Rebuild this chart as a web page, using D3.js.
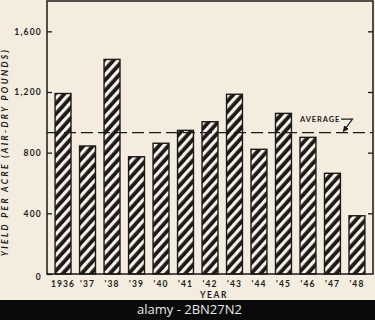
<!DOCTYPE html>
<html>
<head>
<meta charset="utf-8">
<script src="https://cdn.jsdelivr.net/npm/d3@7"></script>
<style>
  body { margin: 0; background: #f3ecdf; }
  svg { display: block; }
</style>
</head>
<body>
<script>
// yield per acre by year
const years = ["1936", "'37", "'38", "'39", "'40", "'41", "'42", "'43", "'44", "'45", "'46", "'47", "'48"];
const yields = [1190, 844, 1415, 773, 862, 947, 1004, 1185, 822, 1059, 901, 664, 384];
const yTicks = [0, 400, 800, 1200, 1600];
const average = 932;

const baseWidth = 375,
  baseHeight = 320;
const margin = { top: 1, right: 2, bottom: 46, left: 47 };
const width = baseWidth - margin.left - margin.right;
const height = baseHeight - margin.top - margin.bottom;
const ink = "#1c1916";
const font = "Lato, 'Open Sans', sans-serif";

const data = years.map((y, i) => ({ Name: y, Value: yields[i] }));

const x = d3
  .scaleBand()
  .domain(years)
  .range([0, width])
  .paddingInner(0.35)
  .paddingOuter(0.33);

const y = d3.scaleLinear().domain([0, 1800]).range([height, 0]);

const svg = d3
  .select("body")
  .append("svg")
  .attr("width", baseWidth)
  .attr("height", baseHeight);

// hatch fill for the bars
const defs = svg.append("defs");
const hatch = defs
  .append("pattern")
  .attr("id", "hatch")
  .attr("patternUnits", "userSpaceOnUse")
  .attr("width", 7)
  .attr("height", 7)
  .attr("patternTransform", "rotate(42)");
hatch.append("rect").attr("width", 7).attr("height", 7).attr("fill", ink);
hatch.append("rect").attr("width", 3.2).attr("height", 7).attr("fill", "#f8f3ea");

const chart = svg
  .append("g")
  .attr("transform", "translate(" + margin.left + "," + margin.top + ")");

// bars
chart
  .selectAll(".bar")
  .data(data)
  .enter()
  .append("rect")
  .attr("class", "bar")
  .attr("x", (d) => x(d.Name))
  .attr("y", (d) => y(d.Value))
  .attr("width", x.bandwidth())
  .attr("height", (d) => y(0) - y(d.Value))
  .attr("fill", "url(#hatch)")
  .attr("stroke", ink)
  .attr("stroke-width", 1.4);

// frame
chart
  .append("rect")
  .attr("width", width)
  .attr("height", height)
  .attr("fill", "none")
  .attr("stroke", ink)
  .attr("stroke-width", 1.5);

// left axis, ticks pointing in
const yAxis = chart
  .append("g")
  .call(d3.axisLeft(y).tickValues(yTicks).tickFormat(d3.format(",")).tickSize(-5).tickPadding(5));
yAxis.select(".domain").remove();

// right axis ticks only
const yAxisR = chart
  .append("g")
  .attr("transform", "translate(" + width + ",0)")
  .call(d3.axisRight(y).tickValues(yTicks.slice(1)).tickSize(-5).tickFormat(""));
yAxisR.select(".domain").remove();

[yAxis, yAxisR].forEach((a) => {
  a.selectAll("line").attr("stroke", ink).attr("stroke-width", 1.3);
});
yAxis
  .selectAll("text")
  .attr("fill", ink)
  .style("font-family", font)
  .style("font-size", "8.5px")
  .style("font-weight", "700")
  .style("letter-spacing", "1.2px");
yAxis.selectAll(".tick").filter((d) => d === 0).select("text").attr("dy", "0.7em");

// bottom labels
const xAxis = chart
  .append("g")
  .attr("transform", "translate(0," + height + ")")
  .call(d3.axisBottom(x).tickSize(0).tickPadding(7));
xAxis.select(".domain").remove();
xAxis
  .selectAll("text")
  .attr("fill", ink)
  .style("font-family", font)
  .style("font-size", "8.5px")
  .style("font-weight", "700")
  .style("letter-spacing", "1.1px");

chart
  .append("text")
  .attr("x", 167)
  .attr("y", height + 24)
  .attr("text-anchor", "middle")
  .attr("fill", ink)
  .style("font-family", font)
  .style("font-size", "8.5px")
  .style("font-weight", "700")
  .style("letter-spacing", "1.6px")
  .text("YEAR");

// y title
svg
  .append("text")
  .attr("transform", "translate(8,152) rotate(-90)")
  .attr("text-anchor", "middle")
  .attr("fill", ink)
  .style("font-family", font)
  .style("font-size", "8.5px")
  .style("font-weight", "700")
  .style("font-style", "italic")
  .style("letter-spacing", "2.4px")
  .text("YIELD PER ACRE (AIR-DRY POUNDS)");

// average line
chart
  .append("line")
  .attr("x1", 0)
  .attr("x2", width)
  .attr("y1", y(average))
  .attr("y2", y(average))
  .attr("stroke", ink)
  .attr("stroke-width", 1.3)
  .attr("stroke-dasharray", "12,5");

chart
  .append("text")
  .attr("x", 253)
  .attr("y", y(average) - 11)
  .attr("fill", ink)
  .style("font-family", font)
  .style("font-size", "7.5px")
  .style("font-weight", "700")
  .style("letter-spacing", "0.9px")
  .text("AVERAGE");

defs
  .append("marker")
  .attr("id", "arrow")
  .attr("viewBox", "0 0 6 6")
  .attr("refX", 5)
  .attr("refY", 3)
  .attr("markerWidth", 5)
  .attr("markerHeight", 5)
  .attr("orient", "auto")
  .append("path")
  .attr("d", "M0,0L6,3L0,6Z")
  .attr("fill", ink);

chart
  .append("path")
  .attr("d", "M294," + (y(average) - 13.5) + "h11.5l-9," + 12)
  .attr("fill", "none")
  .attr("stroke", ink)
  .attr("stroke-width", 1.2)
  .attr("marker-end", "url(#arrow)");

// stock-photo strip at the foot
svg
  .append("rect")
  .attr("y", 300)
  .attr("width", baseWidth)
  .attr("height", 20)
  .attr("fill", "#0a0a0a");
svg
  .append("text")
  .attr("x", 137)
  .attr("y", 314)
  .attr("fill", "#e8e8e8")
  .style("font-family", "'Open Sans', sans-serif")
  .style("font-size", "13px")
  .text("alamy - 2BN27N2");
</script>
</body>
</html>
